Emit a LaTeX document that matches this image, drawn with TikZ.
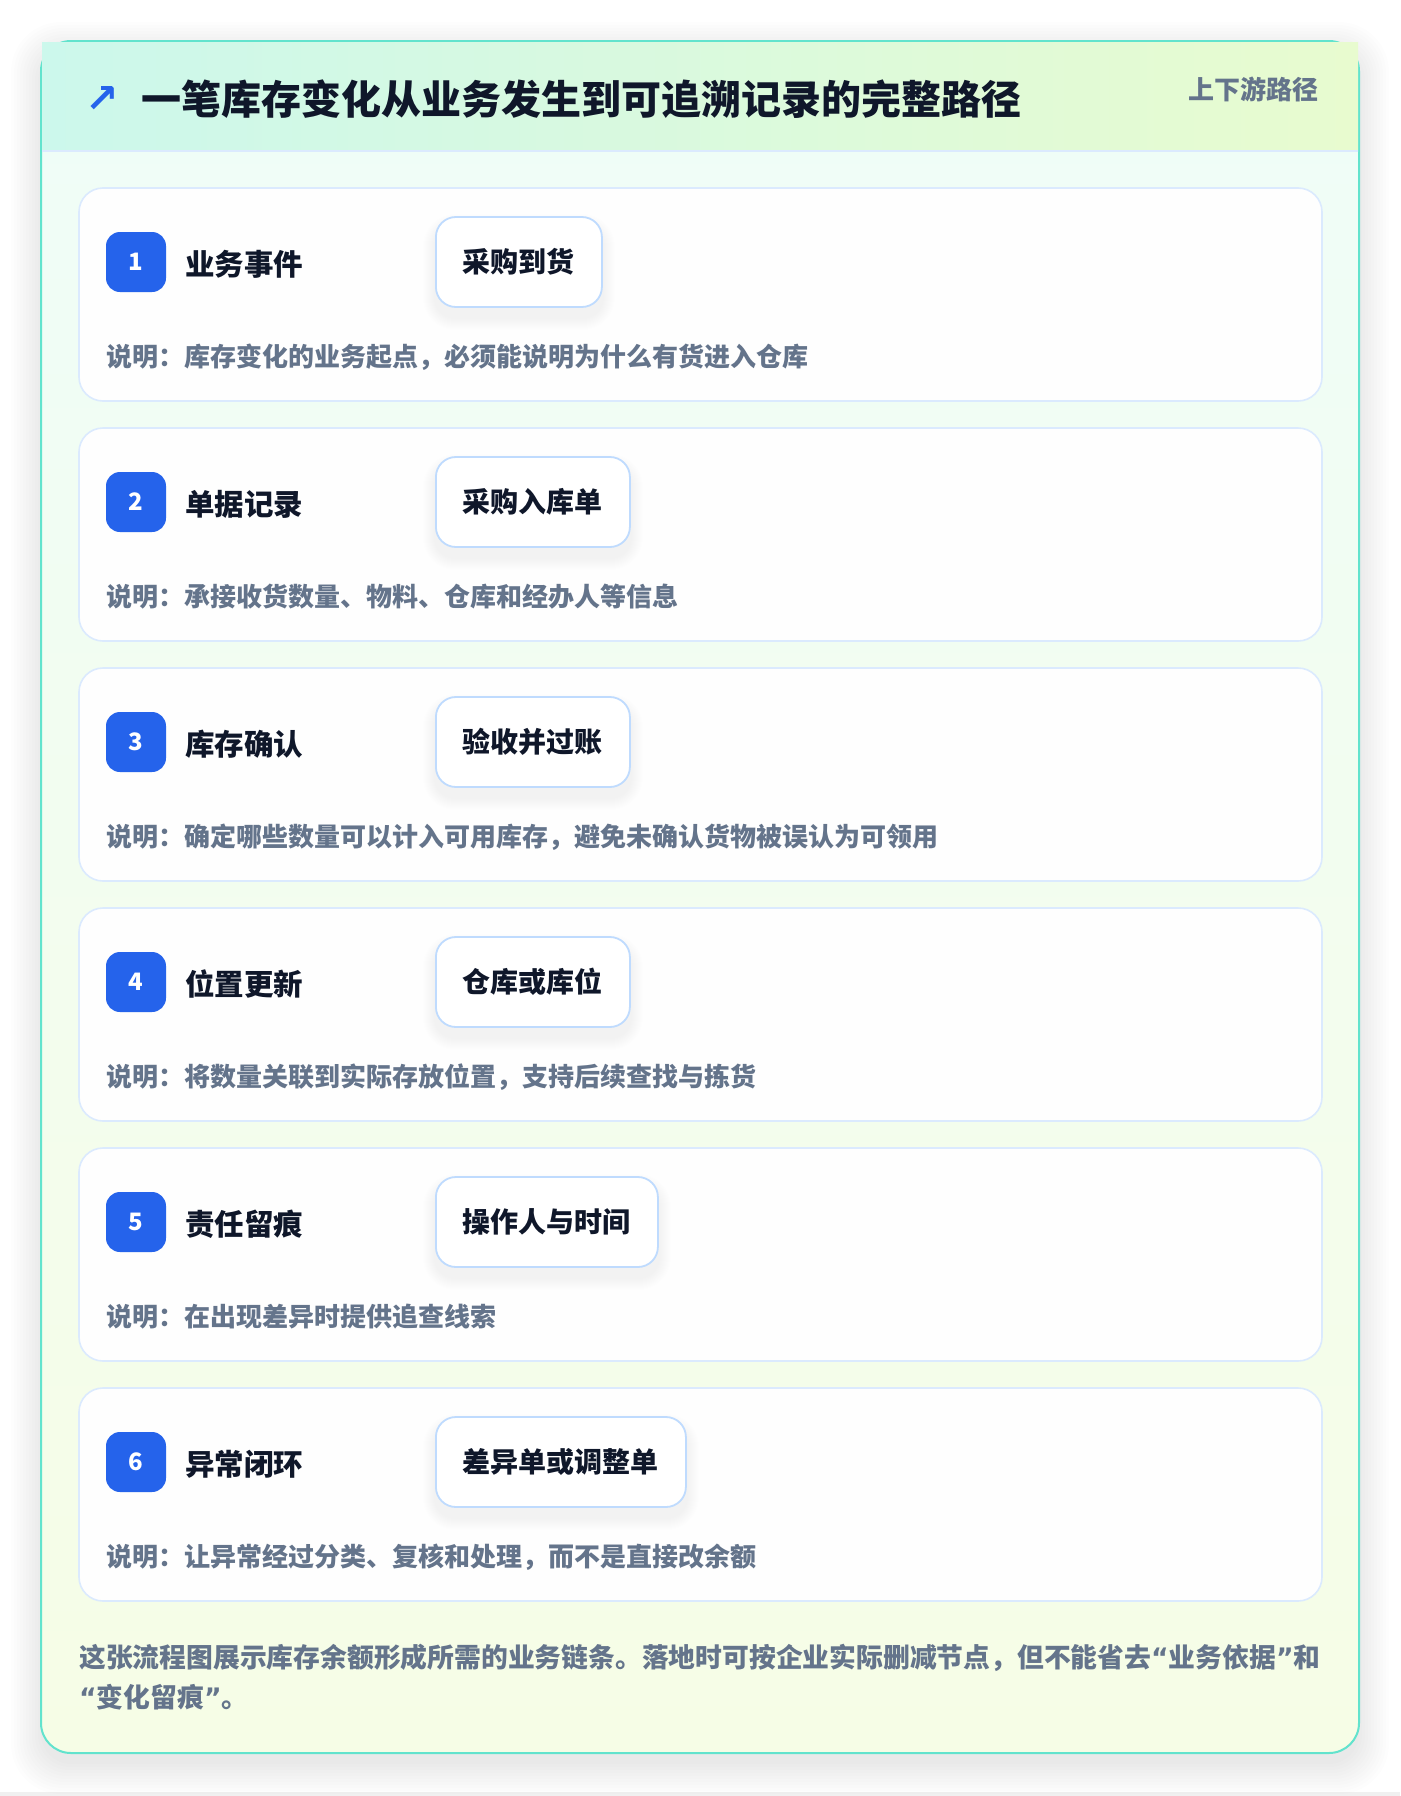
\documentclass[tikz,border=0pt]{standalone}
\usepackage{fontspec}
\setmainfont{Noto Sans CJK SC}
\newfontfamily\simbolo{DejaVu Sans}
\usetikzlibrary{positioning}
\definecolor{blu}{HTML}{2563EB}
\definecolor{scuro}{HTML}{0F172A}
\definecolor{grigio}{HTML}{64748B}
\definecolor{bordoscheda}{HTML}{DBEAFE}
\definecolor{bordopill}{HTML}{BFDBFE}
\definecolor{bordo}{HTML}{62E3CD}
\definecolor{testasx}{HTML}{CCF8EC}
\definecolor{testadx}{HTML}{E8FBCF}
\definecolor{corpo1}{HTML}{EFFDF8}
\definecolor{corpo2}{HTML}{F6FDE6}
\newcommand{\virg}[1]{{\simbolo\bfseries “}#1{\simbolo\bfseries ”}} % virgolette strette
\pgfdeclarelayer{fondo}
\pgfdeclarelayer{ombra}
\pgfsetlayers{fondo,ombra,main}

\begin{document}
\begin{tikzpicture}[x=1pt,y=-1pt,
    scheda/.style={draw=bordoscheda,line width=1.6pt,fill=white,fill opacity=0.96,rounded corners=24pt},
    numero/.style={fill=blu,text=white,rounded corners=14pt,minimum size=60pt,inner sep=0pt,
      font=\fontsize{24}{24}\selectfont\bfseries},
    fase/.style={anchor=west,inner sep=0pt,text=scuro,font=\fontsize{29.5}{30}\selectfont\bfseries},
    pillola/.style={anchor=west,draw=bordopill,line width=1.8pt,fill=white,rounded corners=20pt,
      minimum height=90pt,inner xsep=27pt,text=scuro,font=\fontsize{28}{28}\selectfont\bfseries},
    nota/.style={anchor=west,inner sep=0pt,text=grigio,font=\fontsize{26}{27}\selectfont\bfseries}]
    \useasboundingbox (0,0) rectangle (1400,1796);
    \pgfmathsetmacro{\passo}{240} % distanza fra le schede
    \pgfmathsetmacro{\alta}{213} % altezza di una scheda

    \begin{pgfonlayer}{fondo}
      \fill[white] (0,0) rectangle (1400,1796); % sfondo
      \fill[black!6] (0,1792) rectangle (1400,1796);
      % ombra morbida del riquadro
      \foreach \k in {0,...,10}
        \fill[black,opacity=0.008,rounded corners={(30+2*\k)*1pt}]
          (41-3*\k,52-3*\k) rectangle (1359+3*\k,1764+3*\k);
      % riquadro esterno
      \draw[bordo,line width=2pt,top color=corpo1,bottom color=corpo2,rounded corners=30pt]
        (41,41) rectangle (1359,1753);
      % fascia del titolo
      \fill[left color=testasx,right color=testadx] (42,42) rectangle (1358,151);
      \draw[bordoscheda,line width=1.5pt] (42,151) -- (1358,151);
    \end{pgfonlayer}

    \node[text=blu,inner sep=0pt,font=\fontsize{40}{40}\selectfont\simbolo\bfseries] (freccia) at (102,100) {↗};
    \node[anchor=west,inner sep=0pt,text=scuro,font=\fontsize{40}{40}\selectfont\bfseries]
      (titolo) at (141,99) {一笔库存变化从业务发生到可追溯记录的完整路径};
    \node[anchor=east,inner sep=0pt,text=grigio,font=\fontsize{26}{26}\selectfont\bfseries]
      (etichetta) at (1319,89) {上下游路径};

    \foreach \n/\voce/\doc/\spiega in {
        1/业务事件/采购到货/{说明：库存变化的业务起点，必须能说明为什么有货进入仓库},
        2/单据记录/采购入库单/{说明：承接收货数量、物料、仓库和经办人等信息},
        3/库存确认/验收并过账/{说明：确定哪些数量可以计入可用库存，避免未确认货物被误认为可领用},
        4/位置更新/仓库或库位/{说明：将数量关联到实际存放位置，支持后续查找与拣货},
        5/责任留痕/操作人与时间/{说明：在出现差异时提供追查线索},
        6/异常闭环/差异单或调整单/{说明：让异常经过分类、复核和处理，而不是直接改余额}} {
      \pgfmathsetmacro{\ytop}{188+(\n-1)*\passo} % bordo superiore della scheda
      \begin{pgfonlayer}{fondo}
        \draw[scheda] (79,\ytop) rectangle (1322,\ytop+\alta); % scheda
      \end{pgfonlayer}
      \node[numero] (badge\n) at (136,\ytop+74) {\n};
      \node[fase] (fase\n) at (185,\ytop+76) {\voce};
      \node[pillola] (doc\n) at (435,\ytop+74) {\doc};
      \begin{pgfonlayer}{ombra}
        \foreach \k in {1,...,12}
          \fill[black,opacity=0.005,rounded corners={(20+\k)*1pt}]
            ([shift={(-\k,10-\k)}]doc\n.north west) rectangle ([shift={(\k,10+\k)}]doc\n.south east);
      \end{pgfonlayer}
      \node[nota] (nota\n) at (106,\ytop+169) {\spiega};
    }

    % nota finale
    \node[anchor=west,align=left,inner sep=0pt,text=grigio,font=\fontsize{26.8}{40}\selectfont\bfseries]
      (chiusura) at (79,1677) {这张流程图展示库存余额形成所需的业务链条。落地时可按企业实际删减节点，但不能省去\virg{业务依据}和\\\virg{变化留痕}。};
  \end{tikzpicture}
\end{document}
